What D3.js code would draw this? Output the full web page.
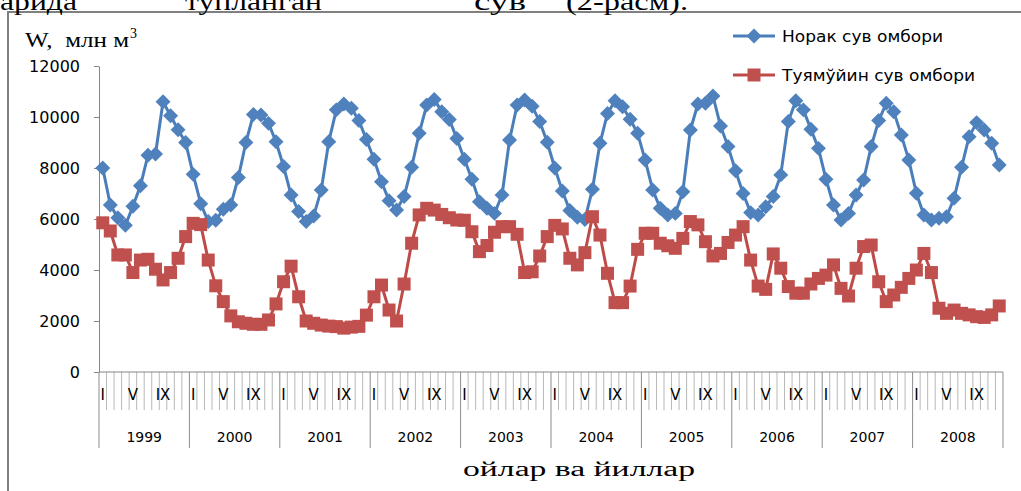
<!DOCTYPE html>
<meta charset="utf-8">
<script src="https://d3js.org/d3.v7.min.js"></script>
<style>
  body { margin: 0; background: #fff; }
</style>
<div id="my_dataviz"></div>
<script>

// monthly volumes, 1999-2008 (million m3)
var years = [1999, 2000, 2001, 2002, 2003, 2004, 2005, 2006, 2007, 2008];
var months = ["I", "II", "III", "IV", "V", "VI", "VII", "VIII", "IX", "X", "XI", "XII"];
var yTicks = [0, 2000, 4000, 6000, 8000, 10000, 12000];

var norak = [
  8000, 6550, 6050, 5750, 6500, 7300, 8500, 8550, 10600, 10050, 9500, 9000,
  7750, 6600, 5900, 5950, 6380, 6550, 7630, 9000, 10100, 10080, 9750, 9030,
  8060, 6940, 6290, 5900, 6120, 7140, 9030, 10280, 10510, 10340, 9860, 9120,
  8340, 7460, 6720, 6350, 6880, 8030, 9360, 10470, 10690, 10210, 9900, 9160,
  8340, 7560, 6680, 6420, 6220, 6940, 9100, 10470, 10670, 10420, 9820, 9010,
  8000, 7100, 6330, 6070, 5980, 7170, 8970, 10140, 10640, 10400, 9910, 9360,
  8310, 7140, 6420, 6160, 6220, 7070, 9490, 10510, 10540, 10820, 9650, 8840,
  7890, 7000, 6250, 6160, 6480, 6880, 7730, 9820, 10640, 10280, 9520, 8770,
  7560, 6550, 5960, 6220, 6940, 7530, 8840, 9860, 10540, 10210, 9290, 8310,
  7010, 6160, 5960, 6030, 6090, 6810, 8030, 9230, 9780, 9490, 8970, 8120
];

var tuyamuyun = [
  5850, 5530, 4590, 4590, 3900, 4390, 4420, 4030, 3610, 3900, 4460, 5310,
  5830, 5780, 4390, 3380, 2760, 2200, 1970, 1910, 1870, 1870, 2040, 2670,
  3540, 4150, 2950, 2000, 1910, 1840, 1800, 1780, 1720, 1760, 1790, 2230,
  2950, 3410, 2430, 2000, 3450, 5050, 6160, 6420, 6350, 6180, 6050, 5960,
  5950, 5500, 4720, 4960, 5480, 5700, 5700, 5400, 3900, 3930, 4550, 5310,
  5750, 5610, 4460, 4200, 4680, 6090, 5370, 3870, 2720, 2720, 3370, 4810,
  5440, 5440, 5050, 4950, 4850, 5240, 5900, 5770, 5110, 4550, 4650, 5080,
  5370, 5700, 4390, 3370, 3240, 4630, 4070, 3350, 3090, 3090, 3450, 3670,
  3800, 4200, 3280, 2980, 4070, 4920, 4980, 3540, 2760, 3020, 3320, 3670,
  4000, 4650, 3900, 2500, 2300, 2430, 2300, 2240, 2170, 2140, 2240, 2590
];

var seriesNames = ["Норак сув омбори", "Туямўйин сув омбори"];

// set the dimensions and margins of the graph
var margin = {top: 66, right: 18, bottom: 119, left: 99},
    width = 904,
    height = 306;

var svg0 = d3.select("#my_dataviz")
  .append("svg")
    .attr("width", 1021)
    .attr("height", 491);

var svg = svg0.append("g")
    .attr("transform", "translate(" + margin.left + "," + margin.top + ")");

// one category per month
var keys = [];
years.forEach(function(yr) {
  months.forEach(function(m) { keys.push(yr + "-" + m); });
});

var x = d3.scaleBand()
    .domain(keys)
    .range([0, width]);

var y = d3.scaleLinear()
    .domain([0, 12000])
    .range([height, 0]);

// Y axis
var yAxis = svg.append("g")
    .call(d3.axisLeft(y).tickValues(yTicks).tickFormat(d3.format("d"))
      .tickSize(5).tickSizeOuter(0).tickPadding(14));
yAxis.select(".domain").attr("stroke", "#868686");
yAxis.selectAll(".tick line").attr("stroke", "#868686");
yAxis.selectAll(".tick text")
    .style("font-family", "'DejaVu Sans', sans-serif")
    .style("font-size", "16px")
    .attr("fill", "#000");

// X axis: month and year separators
var bounds = d3.range(keys.length + 1);
svg.append("g")
  .selectAll("line")
  .data(bounds)
  .join("line")
    .attr("x1", function(i) { return i < keys.length ? x(keys[i]) : width; })
    .attr("x2", function(i) { return i < keys.length ? x(keys[i]) : width; })
    .attr("y1", height)
    .attr("y2", function(i) { return i % 12 === 0 ? height + 76 : height + 38; })
    .attr("stroke", function(i) { return i % 12 === 0 ? "#8c8c8c" : "#b8b8b8"; })
    .attr("stroke-width", 1);

svg.append("line")
    .attr("x1", 0).attr("x2", width)
    .attr("y1", height).attr("y2", height)
    .attr("stroke", "#868686");

// month labels (every 4th shown, as in the original)
svg.append("g")
  .selectAll("text")
  .data(keys.filter(function(k, i) { return i % 4 === 0; }))
  .join("text")
    .attr("x", function(k) { return x(k) + x.bandwidth() / 2; })
    .attr("y", height + 28)
    .attr("text-anchor", "middle")
    .style("font-family", "'DejaVu Sans', sans-serif")
    .style("font-size", "15px")
    .text(function(k) { return k.split("-")[1]; });

// year labels
svg.append("g")
  .selectAll("text")
  .data(years)
  .join("text")
    .attr("x", function(yr) { return x(yr + "-I") + x.bandwidth() * 6; })
    .attr("y", height + 70)
    .attr("text-anchor", "middle")
    .style("font-family", "'DejaVu Sans', sans-serif")
    .style("font-size", "14px")
    .text(function(yr) { return yr; });

// lines + markers
var colors = ["#4A7EBB", "#BE4B48"];
var fills = ["#4F81BD", "#C0504D"];
var allData = [norak, tuyamuyun];

var line = d3.line()
    .x(function(d, i) { return x(keys[i]) + x.bandwidth() / 2; })
    .y(function(d) { return y(d); });

var diamond = d3.symbol().type(d3.symbolSquare).size(112);
var square = d3.symbol().type(d3.symbolSquare).size(169);

allData.forEach(function(vals, s) {
  svg.append("path")
      .datum(vals)
      .attr("fill", "none")
      .attr("stroke", colors[s])
      .attr("stroke-width", 3)
      .attr("stroke-linejoin", "round")
      .attr("d", line);

  svg.append("g")
    .selectAll("path")
    .data(vals)
    .join("path")
      .attr("d", s === 0 ? diamond : square)
      .attr("transform", function(d, i) {
        return "translate(" + (x(keys[i]) + x.bandwidth() / 2) + "," + y(d) + ")" + (s === 0 ? " rotate(45)" : "");
      })
      .attr("fill", fills[s]);
});

// legend
var legendY = [36, 75];
var lg = svg0.append("g");
seriesNames.forEach(function(name, s) {
  lg.append("line")
      .attr("x1", 733).attr("x2", 775)
      .attr("y1", legendY[s]).attr("y2", legendY[s])
      .attr("stroke", colors[s]).attr("stroke-width", 3);
  lg.append("path")
      .attr("d", s === 0 ? diamond : square)
      .attr("transform", "translate(754," + legendY[s] + ")" + (s === 0 ? " rotate(45)" : ""))
      .attr("fill", fills[s]);
  lg.append("text")
      .attr("x", 782)
      .attr("y", legendY[s] + 6)
      .attr("textLength", s === 0 ? 161 : 193)
      .attr("lengthAdjust", "spacingAndGlyphs")
      .style("font-family", "'DejaVu Sans', sans-serif")
      .style("font-size", "15px")
      .text(name);
});

// frame of the chart area
svg0.append("path")
    .attr("d", "M8,491V12H1021")
    .attr("fill", "none")
    .attr("stroke", "#808080")
    .attr("stroke-width", 2);

// axis titles
svg0.append("text")
    .attr("x", 25)
    .attr("y", 47)
    .attr("textLength", 104)
    .attr("lengthAdjust", "spacingAndGlyphs")
    .style("font-family", "'Liberation Serif', serif")
    .style("font-size", "22px")
    .text("W,\u00a0\u00a0млн м");
svg0.append("text")
    .attr("x", 130)
    .attr("y", 38)
    .style("font-family", "'Liberation Serif', serif")
    .style("font-size", "14px")
    .text("3");

svg0.append("text")
    .attr("x", 463)
    .attr("y", 476)
    .attr("textLength", 232)
    .attr("lengthAdjust", "spacingAndGlyphs")
    .style("font-family", "'Liberation Serif', serif")
    .style("font-size", "20px")
    .text("ойлар ва йиллар");

// line of page text above the chart, cut by the top edge
var pageWords = [["арида", 0, 77], ["тупланган", 185, 137], ["сув", 474, 52], ["(2-расм).", 566, 122]];
svg0.append("g")
  .selectAll("text")
  .data(pageWords)
  .join("text")
    .attr("x", function(d) { return d[1]; })
    .attr("y", 10)
    .attr("textLength", function(d) { return d[2]; })
    .attr("lengthAdjust", "spacingAndGlyphs")
    .style("font-family", "'Liberation Serif', serif")
    .style("font-size", "26px")
    .text(function(d) { return d[0]; });

</script>
